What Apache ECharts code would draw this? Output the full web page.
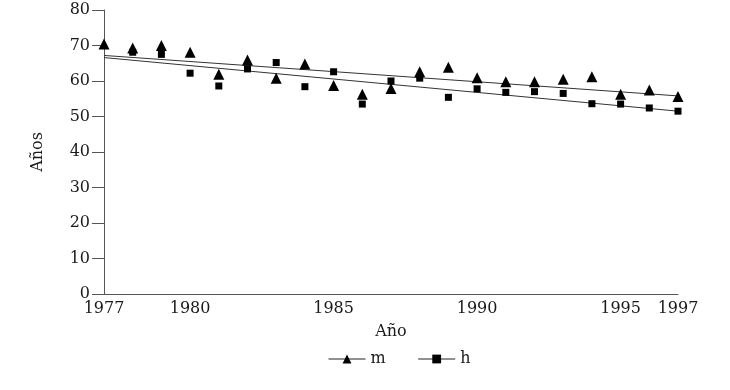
<!DOCTYPE html>
<html>
<head>
<meta charset="utf-8">
<script src="https://cdn.jsdelivr.net/npm/echarts@6/dist/echarts.min.js"></script>
<style>
  html, body { margin: 0; padding: 0; background: #fff; }
  #chart { width: 730px; height: 390px; }
</style>
</head>
<body>
<div id="chart"></div>
<script>
// años
const years = [1977, 1978, 1979, 1980, 1981, 1982, 1983, 1984, 1985, 1986, 1987,
  1988, 1989, 1990, 1991, 1992, 1993, 1994, 1995, 1996, 1997]
// serie m (triángulos)
const mValues = [70.4, 69.3, 70.0, 68.1, 61.9, 65.9, 60.8, 64.8, 58.7, 56.3, 57.9,
  62.6, 63.9, 60.9, 59.8, 59.8, 60.5, 61.2, 56.3, 57.5, 55.6]
// serie h (cuadrados), 1977 sin dato
const hValues = [null, 68.1, 67.5, 62.2, 58.6, 63.4, 65.2, 58.4, 62.6, 53.5, 60.0,
  60.8, 55.4, 57.8, 56.8, 57.0, 56.5, 53.6, 53.5, 52.4, 51.5]
// rectas de tendencia (inicio 1977, fin 1997)
const mTrend = [67.2, 55.8]
const hTrend = [66.6, 51.5]
const xTicks = [1977, 1980, 1985, 1990, 1995, 1997]

const chart = echarts.init(document.getElementById('chart'))
const font = 'DejaVu Serif'
const fontSize = 16
const axisColor = '#555'
const textColor = '#1a1a1a'

const pairs = (vals) => years.map((y, i) => [y, vals[i]])
const trend = (t) => [[years[0], t[0]], [years[years.length - 1], t[1]]]

const option = {
  animation: false,
  textStyle: { fontFamily: font },
  grid: { left: 104, right: 52, top: 10, bottom: 96 },
  xAxis: {
    type: 'value',
    min: 1977,
    max: 1997,
    name: 'Año',
    nameLocation: 'middle',
    nameGap: 30,
    nameTextStyle: { fontFamily: font, fontSize: fontSize, color: textColor },
    axisLine: { lineStyle: { color: axisColor, width: 1 } },
    axisTick: { show: false },
    splitLine: { show: false },
    axisLabel: {
      customValues: xTicks,
      fontFamily: font, fontSize: fontSize, color: textColor, margin: 7,
      formatter: (v) => String(v)
    }
  },
  yAxis: {
    type: 'value',
    min: 0,
    max: 80,
    interval: 10,
    name: 'Años',
    nameLocation: 'middle',
    nameGap: 58,
    nameTextStyle: { fontFamily: font, fontSize: fontSize, color: textColor },
    axisLine: { show: true, lineStyle: { color: axisColor, width: 1 } },
    axisTick: { show: true, length: 12, lineStyle: { color: axisColor } },
    splitLine: { show: false },
    axisLabel: { fontFamily: font, fontSize: fontSize, color: textColor, margin: 14 }
  },
  legend: {
    bottom: 18,
    left: 323,
    itemWidth: 37,
    itemHeight: 11,
    itemGap: 32,
    textStyle: { fontFamily: font, fontSize: fontSize, color: textColor },
    lineStyle: { color: '#222', width: 1, opacity: 1 },
    data: ['m', 'h']
  },
  series: [
    {
      name: 'm', type: 'line', data: pairs(mValues),
      symbol: 'triangle', symbolSize: 11, showSymbol: true,
      itemStyle: { color: '#000' },
      lineStyle: { opacity: 0 }
    },
    {
      name: 'h', type: 'line', data: pairs(hValues),
      symbol: 'rect', symbolSize: 7, showSymbol: true,
      itemStyle: { color: '#000' },
      lineStyle: { opacity: 0 }
    },
    {
      name: 'm ajuste', type: 'line', data: trend(mTrend),
      showSymbol: false, silent: true,
      lineStyle: { color: '#333', width: 1 }
    },
    {
      name: 'h ajuste', type: 'line', data: trend(hTrend),
      showSymbol: false, silent: true,
      lineStyle: { color: '#333', width: 1 }
    }
  ]
}
chart.setOption(option)
</script>
</body>
</html>
